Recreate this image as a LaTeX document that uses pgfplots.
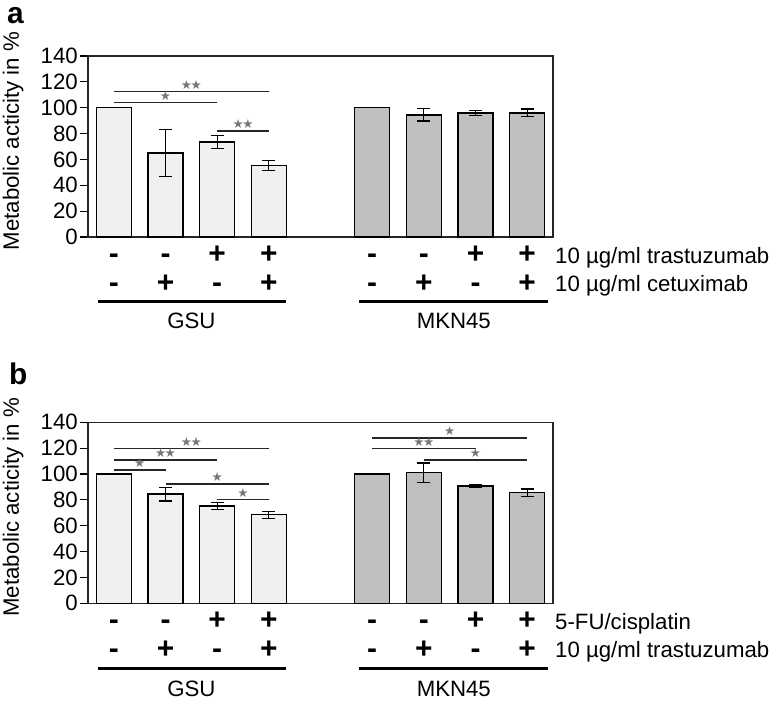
\documentclass[border=0pt]{standalone}
\usepackage{fontspec}
\setmainfont{Liberation Sans}
\newfontfamily\symfont{DejaVu Sans}
\usepackage{pgfplots}
\pgfplotsset{compat=1.18}

\definecolor{gsu}{HTML}{F0F0F0}
\definecolor{mkn}{HTML}{BFBFBF}
\definecolor{starc}{HTML}{767676}
\newcommand\lab{\fontsize{22.3}{26}\selectfont}
\newcommand\sgnf{\fontsize{30}{32}\selectfont\bfseries}

% +/- rows under one bar
\newcommand\signs[3]{%
  \node[anchor=base, font=\sgnf, inner sep=0pt] at ([yshift=-26.5bp]axis cs:#1,0) {#2};
  \node[anchor=base, font=\sgnf, inner sep=0pt] at ([yshift=-55bp]axis cs:#1,0) {#3};}
% significance bracket
\newcommand\sig[4]{%
  \draw[line width=1.4bp, black!85] (axis cs:#1,#3) -- (axis cs:#2,#3);
  \node[font=\symfont\fontsize{12.5}{12.5}\selectfont, text=starc, inner sep=0pt]
    at ([yshift=6.8bp]axis cs:{(#1+#2)/2},#3) {#4};}
\newcommand\one{★}
\newcommand\two{★\kern-1.5bp★}

\pgfplotsset{
  panel/.style={
    scale only axis, width=465bp, height=181bp,
    xmin=-0.5, xmax=8.5, ymin=0, ymax=140,
    xtick=\empty, ytick={0,20,...,140}, ytick pos=left,
    tick align=outside, major tick length=8bp,
    tick style={line width=1.2bp, black},
    axis line style={line width=1.3bp, black!85},
    yticklabel style={font=\lab, /pgf/number format/assume math mode=true,
      inner xsep=1bp, xshift=-1bp},
    ylabel={Metabolic acticity in \%},
    ylabel style={font=\lab, at={(axis description cs:-0.161,0.53)}, anchor=center},
    clip=false,
  },
  bars/.style={ybar, bar width=35bp, bar shift=0pt, fill=#1, draw=black, line width=1.4bp,
    error bars/.cd, y dir=both, y explicit,
    error bar style={line width=1.3bp, black},
    error mark options={line width=1.3bp, black, mark size=6.5bp, rotate=90}},
}

\begin{document}
\begin{tikzpicture}
\useasboundingbox (0,0) rectangle (774bp,-702bp);

\node[anchor=base west, font=\fontsize{30}{32}\selectfont\bfseries, inner sep=0pt] at (7bp,-23.5bp) {a};
\node[anchor=base west, font=\fontsize{30}{32}\selectfont\bfseries, inner sep=0pt] at (9bp,-384bp) {b};

% panel a
\begin{axis}[panel, at={(88bp,-237bp)}, anchor=south west]
\addplot[bars=gsu] coordinates {(0,100) +- (0,0) (1,65) +- (0,18) (2,73.5) +- (0,5) (3,55.3) +- (0,4)};
\addplot[bars=mkn] coordinates {(5,100) +- (0,0) (6,94.5) +- (0,4.7) (7,95.8) +- (0,1.9) (8,96) +- (0,2.9)};
\sig{0}{3}{112.4}{\two}
\sig{0}{2}{104}{\one}
\sig{2}{3}{82}{\two}
\signs{0}{-}{-}\signs{1}{-}{+}\signs{2}{+}{-}\signs{3}{+}{+}
\signs{5}{-}{-}\signs{6}{-}{+}\signs{7}{+}{-}\signs{8}{+}{+}
\node[anchor=base west, font=\lab, inner sep=0pt] at ([xshift=2bp,yshift=-26bp]axis cs:8.5,0) {10 µg/ml trastuzumab};
\node[anchor=base west, font=\lab, inner sep=0pt] at ([xshift=2bp,yshift=-54.5bp]axis cs:8.5,0) {10 µg/ml cetuximab};
\draw[line width=3bp] ([yshift=-64bp]axis cs:-0.31,0) -- ([yshift=-64bp]axis cs:3.33,0);
\draw[line width=3bp] ([yshift=-64bp]axis cs:4.75,0) -- ([yshift=-64bp]axis cs:8.4,0);
\node[anchor=base, font=\lab, inner sep=0pt] at ([yshift=-91bp]axis cs:1.5,0) {GSU};
\node[anchor=base, font=\lab, inner sep=0pt] at ([yshift=-91bp]axis cs:6.58,0) {MKN45};
\end{axis}

% panel b
\begin{axis}[panel, at={(88bp,-603.3bp)}, anchor=south west]
\addplot[bars=gsu] coordinates {(0,100) +- (0,0) (1,84.5) +- (0,5.3) (2,75.3) +- (0,2.8) (3,68.5) +- (0,2.7)};
\addplot[bars=mkn] coordinates {(5,100) +- (0,0) (6,101) +- (0,7.5) (7,90.7) +- (0,0.7) (8,85.5) +- (0,2.8)};
\sig{0}{3}{119.8}{\two}
\sig{0}{2}{110.8}{\two}
\sig{0}{1}{103.1}{\one}
\sig{1}{3}{92.3}{\one}
\sig{2}{3}{80.4}{\one}
\sig{5}{8}{128}{\one}
\sig{5}{7}{119.8}{\two}
\sig{6}{8}{110.8}{\one}
\signs{0}{-}{-}\signs{1}{-}{+}\signs{2}{+}{-}\signs{3}{+}{+}
\signs{5}{-}{-}\signs{6}{-}{+}\signs{7}{+}{-}\signs{8}{+}{+}
\node[anchor=base west, font=\lab, inner sep=0pt] at ([xshift=2bp,yshift=-26bp]axis cs:8.5,0) {5-FU/cisplatin};
\node[anchor=base west, font=\lab, inner sep=0pt] at ([xshift=2bp,yshift=-54.5bp]axis cs:8.5,0) {10 µg/ml trastuzumab};
\draw[line width=3bp] ([yshift=-65.5bp]axis cs:-0.31,0) -- ([yshift=-65.5bp]axis cs:3.33,0);
\draw[line width=3bp] ([yshift=-65.5bp]axis cs:4.75,0) -- ([yshift=-65.5bp]axis cs:8.4,0);
\node[anchor=base, font=\lab, inner sep=0pt] at ([yshift=-93bp]axis cs:1.5,0) {GSU};
\node[anchor=base, font=\lab, inner sep=0pt] at ([yshift=-93bp]axis cs:6.58,0) {MKN45};
\end{axis}
\end{tikzpicture}
\end{document}
